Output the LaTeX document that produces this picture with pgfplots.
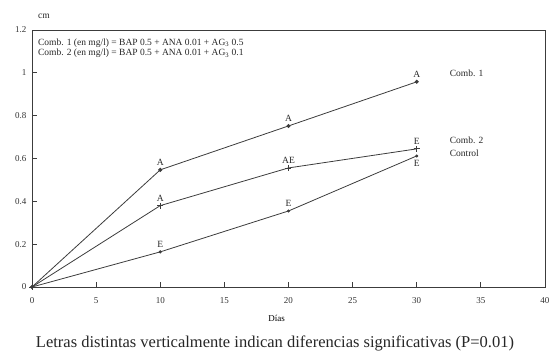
\documentclass[border=0pt]{standalone}
\usepackage{fontspec}
\setmainfont{Liberation Serif}
\usepackage{pgfplots}
\pgfplotsset{compat=1.18}
\definecolor{ln}{RGB}{60,60,60}
\begin{document}
\begin{tikzpicture}
\useasboundingbox (0,0) rectangle (552pt,354pt);
\begin{axis}[
  at={(32pt,67pt)}, anchor=south west,
  scale only axis, width=513pt, height=257pt,
  xmin=0, xmax=40, ymin=0, ymax=1.2,
  xtick={0,5,...,40}, ytick={0,0.2,...,1.2},
  tick align=inside, xtick pos=bottom, ytick pos=left,
  major tick length=5pt,
  axis line style={ln, line width=0.9pt},
  every tick/.style={ln, line width=0.8pt},
  /pgf/number format/assume math mode=true,
  tick label style={font=\fontsize{9}{10}\selectfont, text=black!80},
  xticklabel style={yshift=-7pt},
  yticklabel style={xshift=-2pt},
  xlabel={\fontsize{9}{10}\selectfont Días},
  xlabel style={at={(axis description cs:0.477,0)}, anchor=center, yshift=-31pt},
  clip=false,
]
\addplot[ln, line width=0.8pt, mark=*, mark size=1.6pt] coordinates {(0,0) (10,0.547) (20,0.752) (30,0.958)};
\addplot[ln, line width=0.8pt, mark=+, mark size=3pt] coordinates {(0,0) (10,0.38) (20,0.556) (30,0.645)};
\addplot[ln, line width=0.8pt, mark=*, mark size=1.1pt] coordinates {(0,0) (10,0.164) (20,0.355) (30,0.612)};
\begin{scope}[every node/.style={font=\fontsize{9.5}{10}\selectfont, text=black!85}]
\node[above=1pt] at (axis cs:10,0.547) {A};
\node[above=1pt] at (axis cs:20,0.752) {A};
\node[above=1pt] at (axis cs:30,0.958) {A};
\node[above=1pt] at (axis cs:10,0.38) {A};
\node[above=1pt] at (axis cs:20,0.556) {AE};
\node[above=1pt] at (axis cs:30,0.645) {E};
\node[above=1pt] at (axis cs:10,0.164) {E};
\node[above=1pt] at (axis cs:20,0.355) {E};
\node[below=1pt] at (axis cs:30,0.612) {E};
\node[anchor=west] at (axis cs:32.3,1.0) {Comb. 1};
\node[anchor=west] at (axis cs:32.3,0.685) {Comb. 2};
\node[anchor=west] at (axis cs:32.3,0.625) {Control};
\node[anchor=west] at (axis cs:0.2,1.262) {cm};
\node[anchor=west, align=left, font=\fontsize{9.5}{10.5}\selectfont] at (axis cs:0.2,1.115) {Comb. 1 (en mg/l) = BAP 0.5 + ANA 0.01 + AG\textsubscript{3} 0.5\\Comb. 2 (en mg/l) = BAP 0.5 + ANA 0.01 + AG\textsubscript{3} 0.1};
\end{scope}
\end{axis}
\node[font=\fontsize{16.5}{18}\selectfont, text=black!85] at (275pt,11pt) {Letras distintas verticalmente indican diferencias significativas (P=0.01)};
\end{tikzpicture}
\end{document}
